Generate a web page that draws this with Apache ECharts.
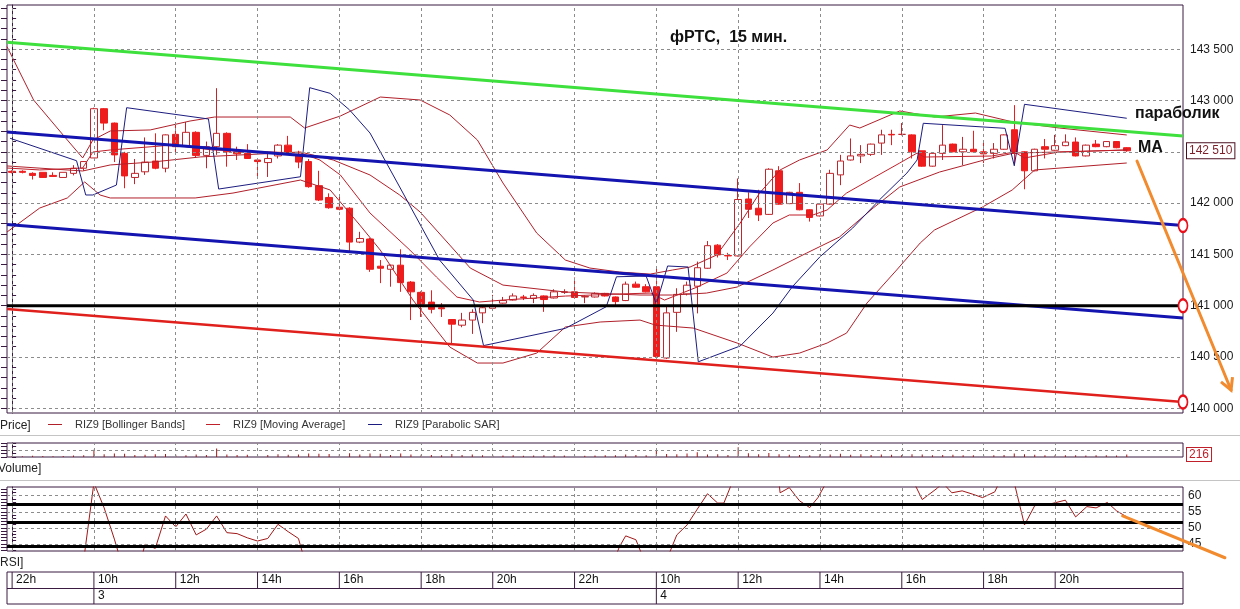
<!DOCTYPE html>
<html><head><meta charset="utf-8">
<script src="https://cdn.jsdelivr.net/npm/echarts@6/dist/echarts.min.js"></script>
<style>html,body{margin:0;padding:0;background:#fff}#c{width:1240px;height:609px}</style>
</head><body><div id="c"></div>
<script>
// ---------- DATA ----------
const barCount = 115;
const hourTicks = [0,8,16,24,32,40,47,55,63,71,79,87,95,102];
const hourLabels = ['22h','10h','12h','14h','16h','18h','20h','22h','10h','12h','14h','16h','18h','20h'];
const dayTicks = [8,63];
const dayLabels = ['3','4'];
const priceLabels = [140000,140500,141000,141500,142000,143000,143500];
const priceGrid = [140000,140500,141000,141500,142000,142500,143000,143500];
const rsiLabels = [45,50,55,60];
const rsiLevels = [57.2,51.6,44.2];
const lastPrice = 142510;
const lastVolume = 216;
// [open, close, low, high]
const candles = [
[142310,142300,142290,142320],[142310,142300,142290,142320],[142290,142270,142230,142300],[142300,142250,142250,142300],
[142270,142260,142260,142300],[142250,142300,142250,142300],[142290,142340,142270,142370],[142340,142405,142315,142410],
[142440,142920,142440,142930],[142920,142780,142710,142925],[142780,142470,142400,142785],[142485,142265,142145,142500],
[142250,142290,142185,142430],[142305,142400,142275,142640],[142410,142340,142330,142680],[142340,142665,142300,142670],
[142670,142550,142485,142790],[142560,142690,142550,142790],[142690,142465,142440,142700],[142465,142550,142340,142600],
[142550,142680,142470,143120],[142680,142500,142355,142690],[142500,142480,142420,142550],[142485,142435,142430,142575],
[142420,142405,142235,142430],[142395,142435,142255,142500],[142460,142565,142435,142575],[142565,142485,142470,142655],
[142460,142400,142340,142510],[142405,142160,142150,142430],[142170,142030,142020,142315],[142055,141955,141945,142095],
[141960,141940,141930,142080],[141950,141620,141525,141960],[141620,141655,141610,141720],[141650,141355,141330,141660],
[141385,141365,141220,141445],[141355,141395,141185,141400],[141395,141225,141135,141550],[141230,141135,140860,141240],
[141130,141015,140890,141140],[141035,140965,140925,141150],[140980,140970,140890,141025],[140865,140820,140625,140870],
[140810,140860,140790,140930],[140860,140935,140725,140965],[140930,140980,140830,140990],[140975,141005,140960,141105],
[141025,141050,141020,141085],[141055,141095,141050,141120],[141085,141080,141055,141105],[141070,141100,141025,141120],
[141095,141060,140940,141100],[141075,141135,141070,141160],[141130,141135,141115,141160],[141135,141080,141075,141275],
[141085,141090,141025,141100],[141085,141120,141080,141130],[141120,141095,141090,141125],[141085,141040,140990,141090],
[141050,141210,141045,141235],[141210,141180,141175,141235],[141185,141135,141130,141210],[141185,140505,140490,141380],
[140490,140930,140480,141005],[140935,141110,140745,141170],[141115,141200,141100,141235],[141190,141370,140925,141430],
[141365,141585,141360,141630],[141590,141495,141470,141600],[141490,141485,141445,141515],[141485,142035,141480,142240],
[142040,141940,141855,142105],[141950,141885,141825,142130],[141890,142330,141885,142340],[142315,141990,141985,142360],
[141995,142105,141990,142110],[142105,141935,141930,142195],[141935,141860,141820,141940],[141875,141990,141870,141995],
[141990,142290,141985,142325],[142275,142410,142175,142470],[142420,142460,142415,142630],[142460,142475,142390,142565],
[142475,142575,142460,142580],[142585,142665,142470,142715],[142670,142665,142565,142715],[142670,142670,142660,142780],
[142665,142500,142435,142670],[142510,142360,142355,142510],[142360,142485,142355,142490],[142485,142565,142420,142760],
[142575,142500,142495,142580],[142500,142525,142370,142645],[142525,142500,142495,142705],[142500,142480,142390,142600],
[142485,142525,142435,142585],[142525,142665,142520,142670],[142715,142485,142370,142955],[142500,142315,142135,142505],
[142315,142525,142310,142530],[142550,142525,142435,142625],[142515,142560,142510,142665],[142560,142595,142555,142670],
[142595,142460,142455,142640],[142460,142565,142455,142570],[142575,142550,142545,142615],[142550,142600,142545,142605],
[142600,142540,142535,142605],[142540,142510,142500,142545]
];
const volumes = [80,60,100,80,60,90,120,140,620,240,300,280,180,200,240,260,
200,160,220,180,720,220,180,200,160,180,240,200,220,300,280,260,
240,320,220,300,280,180,300,220,200,180,160,260,180,220,140,160,
120,140,100,120,160,140,120,180,100,120,140,160,220,180,160,
600,260,240,300,400,220,240,180,840,320,240,340,240,200,180,160,
240,220,280,200,240,180,220,200,180,240,220,160,180,200,160,140,
160,140,180,300,240,200,160,180,140,160,120,140,160,120,216];
const bbUpper = [[-0.5,143525],[2.1,143005],[5.4,142615],[6.9,142440],[7.9,142615],[9.6,142703],[13.5,142713],[17.4,142800],[19.8,142839],[27.2,142839],[28.6,142732],[32.1,142849],[36,143034],[39.9,143005],[42.8,142859],[45.5,142615],[48,142196],[51.3,141708],[54.1,141445],[56.5,141367],[59.4,141328],[62.4,141308],[64.6,141348],[66.3,141377],[68.9,141494],[71.2,141806],[73.1,142098],[75.1,142323],[77,142420],[79.7,142518],[81.9,142761],[82.9,142732],[86.8,142898],[90.2,142839],[94.2,142878],[97.9,142790],[102.4,142732],[109,142664]];
const bbMiddle = [[-0.5,142362],[6.9,142313],[9.6,142372],[13.8,142401],[18.4,142450],[28.2,142498],[31.4,142420],[35,142274],[37.9,142079],[39.9,141913],[42.8,141591],[44.8,141367],[48,141201],[54.1,141133],[61.4,141104],[64.6,141104],[67.9,141123],[70.9,141182],[74.4,141348],[77.7,141513],[80.9,141669],[84.2,141952],[86.8,142157],[90.7,142303],[95.8,142440],[98,142488],[102.4,142498],[109,142518]];
const bbLower = [[-0.5,141718],[2.7,141952],[5.4,142050],[7.1,142206],[8.6,142079],[9.6,142050],[17.9,142050],[21.6,142098],[28.2,142225],[31.1,142128],[34,141786],[36,141542],[39.2,141055],[42.8,140597],[45.5,140441],[48,140441],[51.3,140538],[54.1,140792],[57.5,140841],[61.4,140860],[62.9,140811],[66.6,140782],[70.9,140636],[74.4,140499],[77,140538],[79.7,140636],[81.6,140733],[83.6,141026],[86.5,141348],[88.8,141611],[90.2,141738],[94.9,141962],[97.8,142128],[100,142323],[109,142391]];
const maLine = [[-0.5,142342],[2.7,142323],[6.9,142342],[7.9,142498],[9.6,142518],[15.7,142566],[19.6,142518],[28.2,142488],[30.1,142420],[32.1,142274],[35,141903],[38.9,141542],[41.5,141279],[43.5,141084],[45.7,141036],[48,141055],[54.1,141094],[59.4,141114],[62.4,141123],[63.8,141055],[67,141182],[69.9,141318],[72.1,141572],[74.4,141806],[76,141884],[78.3,141884],[79.7,141933],[81.6,142098],[84.2,142245],[86.8,142391],[88.5,142488],[89.2,142449],[95.8,142459],[98,142498],[99,142440],[102.4,142498],[109.1,142518]];
const sar = [[-0.2,142632],[6.3,142413],[7.2,142079],[7.9,142079],[10.2,142176],[11.2,142930],[19.2,142820],[20.2,142137],[28.2,142257],[29.1,143125],[31.1,143070],[33,142908],[35,142683],[37.9,142157],[41.8,141445],[45.1,141055],[46.1,140611],[54.1,140779],[58.1,140990],[59.1,141282],[62,141289],[63,141016],[64.1,141387],[66.1,141377],[67.1,140453],[71.2,140607],[74.4,140928],[76.3,141185],[79,141477],[82.2,141757],[84.8,142030],[87.5,142293],[88.5,142420],[89.1,142778],[97.1,142729],[98,142364],[99,142963],[109,142827]];
const greenLine = [[-0.5,143568],[114.5,142654]];
const blueUpper = [[-0.5,142693],[114.5,141781]];
const blueLower = [[-0.5,141791],[114.5,140880]];
const redLine = [[-0.5,140967],[114.5,140061]];
const blackLine = [[-0.5,141000],[114.5,141000]];
const rsi = [[7,40],[8,64],[9,56.2],[10,46.5],[10.6,40],[12.6,40],[13,44.9],[14,43.6],[15,53.7],[16,50.3],[17,54.3],[18,47.8],[19,49.6],[20,53.7],[21,48.5],[22,48.2],[23,46.9],[24,45.9],[25,46.7],[26,51.1],[27,48.8],[28,46.7],[28.6,40],[59,41],[59.4,44.2],[60,47.5],[61,46.3],[61.8,40],[64,40],[65,47.8],[66,50.9],[67,55.8],[68,60.6],[69,57.7],[69.6,57.7],[70.4,64],[75,64],[75.1,60.9],[76,62.5],[77,58.4],[78,56.3],[78.8,59.4],[79.6,64],[88.2,64],[89,58.8],[90.5,62.4],[91,64],[91.9,60.9],[92.9,61.5],[93.9,60.5],[94.9,59.4],[96.1,61.2],[96.5,64],[98,64],[99,50.9],[100,56.9],[101.6,57.5],[103,58.6],[104,53.4],[105.1,56.6],[106,56.2],[107.1,57.9],[108,55.3],[109,53.4]];
const mainArrow = [[110.0,142410],[119.2,140178]];
const rsiArrow = [[108.6,53.7],[118.6,40.7]];

// ---------- CHART ----------
const FONT = 'Liberation Sans';
const cats = Array.from({length: barCount}, (_, k) => String(k));
const frame = '#3a1a40';
const gridDash = {type:[3,3], color:'#8c8c8c', width:1};
const priceTicks = []; for (let v = 140000; v <= 143900; v += 100) priceTicks.push(v);
const rsiTicks = []; for (let v = 43; v <= 62; v += 1) rsiTicks.push(v);
const fmt = v => String(v).replace(/\B(?=(\d{3})+(?!\d))/g, ' ');

function vLines(){ return hourTicks.map(t => ({xAxis: t})); }
function endCircle(pt){ return {value: pt, symbol:'emptyCircle', symbolSize:[9,13], itemStyle:{color:'#e8101a', borderWidth:2}}; }
function trend(data, color, width){
  return {type:'line', xAxisIndex:1, yAxisIndex:0, data:data, symbol:'none', showSymbol:true, clip:false,
    lineStyle:{color:color, width:width}, itemStyle:{color:color}, z:6, silent:true, animation:false};
}
function ind(name, data, color){
  return {type:'line', name:name, xAxisIndex:1, yAxisIndex:0, data:data, symbol:'none', color:color,
    lineStyle:{color:color, width:1}, z:4, silent:true};
}
function tickRender(labels, top, bottom){
  return function(params, api){
    const i = api.value(0);
    const p1 = api.coord([i, top]), p2 = api.coord([i, bottom]);
    return {type:'group', children:[
      {type:'line', shape:{x1:p1[0], y1:p1[1], x2:p2[0], y2:p2[1]}, style:{stroke:frame, lineWidth:1}},
      {type:'text', x:p1[0]+4, y:(p1[1]+p2[1])/2, style:{text:labels[params.dataIndex], fill:'#111', font:'12px "'+FONT+'"', align:'left', verticalAlign:'middle'}}
    ]};
  };
}
const legendBase = {icon:'rect', itemWidth:14, itemHeight:1, top:419, padding:0, selectedMode:false,
  textStyle:{fontSize:11, color:'#333', fontFamily:"'Liberation Sans Narrow','Liberation Sans'", padding:[0,0,0,8]}};

const option = {
  animation:false,
  backgroundColor:'#fff',
  textStyle:{fontFamily:FONT},
  title:[
    {text:'фРТС,  15 мин.', left:670, top:30, padding:0, textStyle:{fontSize:16, fontWeight:'bold', color:'#111', fontFamily:FONT}},
    {text:'параболик', left:1135, top:106, padding:0, textStyle:{fontSize:16, fontWeight:'bold', color:'#111', fontFamily:FONT}},
    {text:'MA', left:1138, top:140, padding:0, textStyle:{fontSize:16, fontWeight:'bold', color:'#111', fontFamily:FONT}}
  ],
  legend:[
    Object.assign({}, legendBase, {left:48, data:['RIZ9 [Bollinger Bands]']}),
    Object.assign({}, legendBase, {left:206, data:['RIZ9 [Moving Average]']}),
    Object.assign({}, legendBase, {left:368, data:['RIZ9 [Parabolic SAR]']})
  ],
  grid:[
    {left:7, right:57, top:5, height:408, show:true, borderColor:frame, borderWidth:1, backgroundColor:'#fff'},
    {left:7, right:57, top:443, height:14, show:true, borderColor:frame, borderWidth:1, backgroundColor:'#fff'},
    {left:7, right:57, top:487, height:64, show:true, borderColor:frame, borderWidth:1, backgroundColor:'#fff'},
    {left:7, right:57, top:572, height:32, show:true, borderColor:frame, borderWidth:1, backgroundColor:'#fff'}
  ],
  xAxis:[
    {type:'category', gridIndex:0, data:cats, show:false, boundaryGap:true},
    {type:'value', gridIndex:0, min:-0.5, max:114.5, show:false},
    {type:'category', gridIndex:1, data:cats, show:false, boundaryGap:true},
    {type:'value', gridIndex:1, min:-0.5, max:114.5, show:false},
    {type:'value', gridIndex:2, min:-0.5, max:114.5, show:false},
    {type:'value', gridIndex:3, min:-0.5, max:114.5, show:false}
  ],
  yAxis:[
    {type:'value', gridIndex:0, position:'right', min:139954, max:143931, splitLine:{show:false},
      axisLine:{show:true, lineStyle:{color:frame}},
      axisTick:{show:true, length:4, lineStyle:{color:frame}, customValues:priceTicks},
      axisLabel:{show:true, margin:7, color:'#1a1a1a', fontSize:12, fontFamily:FONT, customValues:priceLabels, formatter:fmt}},
    {type:'value', gridIndex:0, position:'left', min:139954, max:143931, splitLine:{show:false},
      axisLine:{show:false}, axisTick:{show:true, length:6, lineStyle:{color:frame}, customValues:priceTicks},
      axisLabel:{show:false}},
    {type:'value', gridIndex:1, position:'right', min:0, max:1200, splitLine:{show:false},
      axisLine:{show:true, lineStyle:{color:frame}}, axisTick:{show:true, length:4, lineStyle:{color:frame}, customValues:[0,300,600,900,1200]},
      axisLabel:{show:false}},
    {type:'value', gridIndex:1, position:'left', min:0, max:1200, splitLine:{show:false},
      axisLine:{show:false}, axisTick:{show:true, length:6, lineStyle:{color:frame}, customValues:[0,300,600,900,1200]},
      axisLabel:{show:false}},
    {type:'value', gridIndex:2, position:'right', min:42.8, max:62.7, splitLine:{show:false},
      axisLine:{show:true, lineStyle:{color:frame}}, axisTick:{show:true, length:4, lineStyle:{color:frame}, customValues:rsiTicks},
      axisLabel:{show:true, margin:5, color:'#1a1a1a', fontSize:12, fontFamily:FONT, customValues:rsiLabels}},
    {type:'value', gridIndex:2, position:'left', min:42.8, max:62.7, splitLine:{show:false},
      axisLine:{show:false}, axisTick:{show:true, length:6, lineStyle:{color:frame}, customValues:rsiTicks},
      axisLabel:{show:false}},
    {type:'value', gridIndex:3, min:0, max:2, show:false}
  ],
  series:[
    {type:'line', xAxisIndex:1, yAxisIndex:0, data:[], z:1, silent:true,
      markLine:{silent:true, symbol:'none', label:{show:false}, lineStyle:gridDash,
        data: vLines().concat(priceGrid.map(v => ({yAxis:v})))}},
    {type:'line', xAxisIndex:1, yAxisIndex:0, data:[], z:8, silent:true,
      markLine:{silent:true, symbol:'none', lineStyle:{color:'rgba(0,0,0,0)'},
        label:{show:true, position:'end', distance:4, formatter:fmt(lastPrice), color:'#7b1f2a', fontSize:12, fontFamily:FONT,
          borderColor:'#4a1020', borderWidth:1, padding:[2,2,1,2], backgroundColor:'#fff'},
        data:[{yAxis:lastPrice}]}},
    {type:'candlestick', xAxisIndex:0, yAxisIndex:0, data:candles, barWidth:7, z:2, silent:true,
      itemStyle:{color:'#ffffff', color0:'#ee1c1c', borderColor:'#c0262c', borderColor0:'#ee1c1c', borderWidth:1}},
    ind('RIZ9 [Bollinger Bands]', bbUpper, '#b0202a'),
    ind('RIZ9 [Bollinger Bands]', bbMiddle, '#b0202a'),
    ind('RIZ9 [Bollinger Bands]', bbLower, '#b0202a'),
    ind('RIZ9 [Moving Average]', maLine, '#c0202a'),
    ind('RIZ9 [Parabolic SAR]', sar, '#1c1c80'),
    trend(greenLine, '#3ee03e', 3),
    trend([blueUpper[0], endCircle(blueUpper[1])], '#1414b0', 3),
    trend(blueLower, '#1414b0', 3),
    trend([blackLine[0], endCircle(blackLine[1])], '#000000', 3),
    trend([redLine[0], endCircle(redLine[1])], '#e0201c', 2.5),
    {type:'line', xAxisIndex:3, yAxisIndex:2, data:[], z:1, silent:true,
      markLine:{silent:true, symbol:'none', label:{show:false}, lineStyle:gridDash,
        data: vLines().concat([{yAxis:600}])}},
    {type:'line', xAxisIndex:3, yAxisIndex:2, data:[], z:8, silent:true,
      markLine:{silent:true, symbol:'none', lineStyle:{color:'rgba(0,0,0,0)'},
        label:{show:true, position:'end', distance:4, formatter:String(lastVolume), color:'#c0202a', fontSize:12, fontFamily:FONT,
          borderColor:'#c0202a', borderWidth:1, padding:[1,2,0,2], backgroundColor:'#fff'},
        data:[{yAxis:lastVolume}]}},
    {type:'bar', xAxisIndex:2, yAxisIndex:2, data:volumes, barWidth:1, itemStyle:{color:'#a01818'}, silent:true, z:2},
    {type:'line', xAxisIndex:4, yAxisIndex:4, data:[], z:1, silent:true,
      markLine:{silent:true, symbol:'none', label:{show:false}, lineStyle:gridDash,
        data: vLines().concat(rsiLabels.map(v => ({yAxis:v})))}},
    {type:'line', xAxisIndex:4, yAxisIndex:4, data:[], z:3, silent:true,
      markLine:{silent:true, symbol:'none', label:{show:false}, lineStyle:{color:'#000', width:3, type:'solid'},
        data: rsiLevels.map(v => ({yAxis:v}))}},
    {type:'line', xAxisIndex:4, yAxisIndex:4, data:rsi, symbol:'none', lineStyle:{color:'#a01818', width:1}, z:4, silent:true},
    {type:'line', xAxisIndex:5, yAxisIndex:6, data:[], z:1, silent:true,
      markLine:{silent:true, symbol:'none', label:{show:false}, lineStyle:{color:frame, width:1, type:'solid'}, data:[{yAxis:1}]}},
    {type:'custom', xAxisIndex:5, yAxisIndex:6, data:hourTicks.map(t => [t, 2]), renderItem:tickRender(hourLabels, 2, 1), silent:true, z:3},
    {type:'custom', xAxisIndex:5, yAxisIndex:6, data:dayTicks.map(t => [t, 1]), renderItem:tickRender(dayLabels, 1, 0), silent:true, z:3}
  ]
};

const chart = echarts.init(document.getElementById('c'), null, {renderer:'canvas'});
chart.setOption(option);

function px(xi, yi, pt){ return chart.convertToPixel({xAxisIndex:xi, yAxisIndex:yi}, pt); }
function arrow(p0, p1, head){
  const col = '#f28a2e';
  const els = [{type:'line', shape:{x1:p0[0], y1:p0[1], x2:p1[0], y2:p1[1]}, style:{stroke:col, lineWidth:3, lineCap:'round'}, z:100, silent:true}];
  if (head){
    const ang = Math.atan2(p1[1]-p0[1], p1[0]-p0[0]), L = 13, a = 0.5;
    els.push({type:'polyline', shape:{points:[[p1[0]-L*Math.cos(ang-a), p1[1]-L*Math.sin(ang-a)], [p1[0], p1[1]], [p1[0]-L*Math.cos(ang+a), p1[1]-L*Math.sin(ang+a)]]},
      style:{stroke:col, lineWidth:3, fill:null}, z:100, silent:true});
  }
  return els;
}
const sepStyle = {stroke:'#c4c4c4', lineWidth:1};
const textEl = (t, x, y) => ({type:'text', x:x, y:y, style:{text:t, fill:'#222', font:"12px 'Liberation Sans Narrow','Liberation Sans'", verticalAlign:'middle', align:'left'}, silent:true});
chart.setOption({graphic:{elements:
  arrow(px(1,0,mainArrow[0]), px(1,0,mainArrow[1]), true)
  .concat(arrow(px(4,4,rsiArrow[0]), px(4,4,rsiArrow[1]), false))
  .concat([
    {type:'line', shape:{x1:0, y1:435.5, x2:1240, y2:435.5}, style:sepStyle, silent:true},
    {type:'line', shape:{x1:0, y1:480.5, x2:1240, y2:480.5}, style:sepStyle, silent:true},
    textEl('Price]', 0, 426), textEl('Volume]', -2, 469), textEl('RSI]', 0, 563)
  ])
}});
</script></body></html>
